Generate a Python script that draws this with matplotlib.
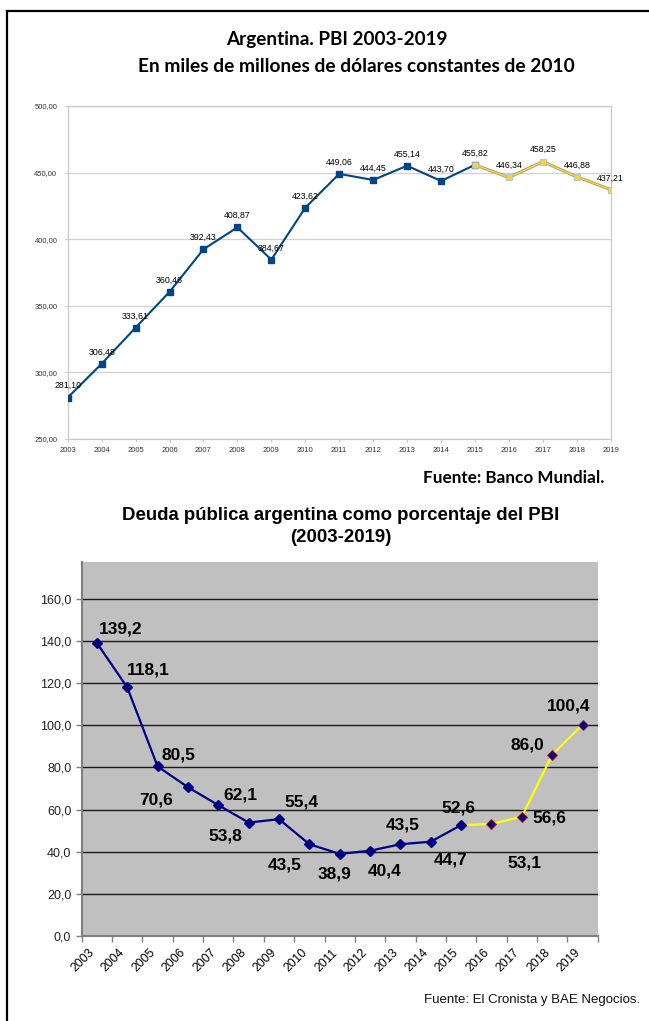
import matplotlib
matplotlib.use("Agg")
from matplotlib import pyplot as plt
from matplotlib.lines import Line2D
import numpy as np

# --- data ---
years = [str(y) for y in range(2003, 2020)]
pbi = [281.10, 306.48, 333.61, 360.46, 392.43, 408.87, 384.67, 423.62, 449.06,
       444.45, 455.14, 443.70, 455.82, 446.34, 458.25, 446.88, 437.21]
deuda = [139.2, 118.1, 80.5, 70.6, 62.1, 53.8, 55.4, 43.5, 38.9,
         40.4, 43.5, 44.7, 52.6, 53.1, 56.6, 86.0, 100.4]
# label offsets (px) for the debt chart, as placed in the original
deuda_off = [(24, 14), (21, 17), (21, 11), (-32, -13), (22, 10), (-23, -13),
             (22, 17), (-25, -21), (-5, -20), (15, -20), (2, 19), (20, -18),
             (-3, 17), (33, -39), (28, -1), (-25, 10), (-14, 19)]
split = 12  # index of 2015, where the yellow part starts

W, H = 649, 1021
fig = plt.figure(figsize=(W / 100, H / 100), dpi=100)


def box(left, top, right, bottom):
    return [left / W, 1 - bottom / H, (right - left) / W, (bottom - top) / H]


def pt(x, y):
    return x / W, 1 - y / H


# frame lines of the page
fig.add_artist(Line2D([6.5 / W, 1], [1 - 11.5 / H] * 2, color="black", lw=1.6))
fig.add_artist(Line2D([6.5 / W] * 2, [1 - 11.5 / H, 0], color="black", lw=1.6))

# ---------------- upper chart ----------------
fig.text(*pt(337, 40), "Argentina. PBI 2003-2019", ha="center", va="center",
         fontsize=13.6, fontweight="bold", family="Lato")
fig.text(*pt(356, 66), "En miles de millones de dólares constantes de 2010",
         ha="center", va="center", fontsize=13.8, fontweight="bold", family="Lato")

ax1 = fig.add_axes(box(67.7, 106, 610.7, 439))
x1 = np.arange(len(years))
blue = "#004586"
yellow = "#ffd320"
ax1.plot(x1[:split + 1], pbi[:split + 1], color=blue, lw=1.5, marker="s",
         ms=4.5, mfc=blue, mec=blue, zorder=3)
ax1.plot(x1[split:], pbi[split:], color="#9a9a9a", lw=2.2, zorder=3)
ax1.plot(x1[split:], pbi[split:], color=yellow, lw=1.1, marker="s",
         ms=4.5, mfc=yellow, mec="#a9bfd6", mew=0.6, zorder=4)
for xi, v in zip(x1, pbi):
    ax1.annotate(f"{v:.2f}".replace(".", ","), (xi, v), xytext=(0, 8.5),
                 textcoords="offset points", ha="center", va="center",
                 fontsize=6.3, family="Liberation Sans", color="black")
ax1.set_xlim(0, len(years) - 1)
ax1.set_ylim(250, 500)
ax1.set_yticks([250, 300, 350, 400, 450, 500])
ax1.set_yticklabels([f"{v},00" for v in [250, 300, 350, 400, 450, 500]])
ax1.set_xticks(x1)
ax1.set_xticklabels(years)
ax1.grid(axis="y", color="#d0d0d0", lw=0.9)
ax1.set_axisbelow(True)
for s in ax1.spines.values():
    s.set_color("#c8c8c8")
    s.set_linewidth(0.9)
ax1.tick_params(axis="both", colors="#c8c8c8", labelcolor="#333333",
                labelsize=5.5, length=2.5, width=0.8)
ax1.tick_params(axis="y", pad=5)
ax1.tick_params(axis="x", pad=3)
for lbl in ax1.get_xticklabels() + ax1.get_yticklabels():
    lbl.set_family("Liberation Sans")

fig.text(*pt(604, 478), "Fuente: Banco Mundial.", ha="right", va="center",
         fontsize=12.3, fontweight="bold", family="Lato")

# ---------------- lower chart ----------------
fig.text(*pt(341, 515), "Deuda pública argentina como porcentaje del PBI",
         ha="center", va="center", fontsize=13.4, fontweight="bold",
         family="Liberation Sans")
fig.text(*pt(341, 537), "(2003-2019)", ha="center", va="center",
         fontsize=13.4, fontweight="bold", family="Liberation Sans")

ax2 = fig.add_axes(box(81.7, 562, 597.7, 935.7))
ax2.set_facecolor("#c0c0c0")
x2 = np.arange(len(years)) + 0.5
navy = "#000080"
ax2.plot(x2[split:], deuda[split:], color="#ffff00", lw=1.6, zorder=3)
ax2.plot(x2[split + 1:], deuda[split + 1:], ls="none", marker="D", ms=5.5,
         mfc=navy, mec="#a02020", mew=0.7, zorder=4)
ax2.plot(x2[:split + 1], deuda[:split + 1], color=navy, lw=1.6, marker="D",
         ms=5.5, mfc=navy, mec=navy, zorder=5)
for xi, v, (dx, dy) in zip(x2, deuda, deuda_off):
    ax2.annotate(f"{v:.1f}".replace(".", ","), (xi, v), xytext=(dx * 0.72, dy * 0.72),
                 textcoords="offset points", ha="center", va="center",
                 fontsize=12.5, fontweight="bold", family="Liberation Sans",
                 color="black")
ax2.set_xlim(0, len(years))
ax2.set_ylim(0, 177.7)
ax2.set_yticks(np.arange(0, 161, 20))
ax2.set_yticklabels([f"{v},0" for v in range(0, 161, 20)])
ax2.set_xticks(np.arange(len(years) + 1))
ax2.set_xticklabels([])
ax2.grid(axis="y", color="#1a1a1a", lw=1.0)
ax2.set_axisbelow(True)
ax2.spines["top"].set_visible(False)
ax2.spines["right"].set_visible(False)
for s in ("left", "bottom"):
    ax2.spines[s].set_color("#808080")
    ax2.spines[s].set_linewidth(1.5)
ax2.tick_params(axis="both", colors="#808080", labelcolor="#222222",
                labelsize=9, length=4, width=1)
for lbl in ax2.get_yticklabels():
    lbl.set_family("Liberation Sans")
for xi, y in zip(x2, years):
    ax2.annotate(y, (xi, 0), xytext=(-3, -11), textcoords="offset points",
                 ha="right", va="center", rotation=45, rotation_mode="anchor",
                 fontsize=8.7, family="Liberation Sans", color="black",
                 annotation_clip=False)

fig.text(*pt(640, 1000), "Fuente: El Cronista y BAE Negocios.", ha="right",
         va="center", fontsize=9.5, family="Liberation Sans", color="#111111")

fig.savefig("out.png", dpi=100)
